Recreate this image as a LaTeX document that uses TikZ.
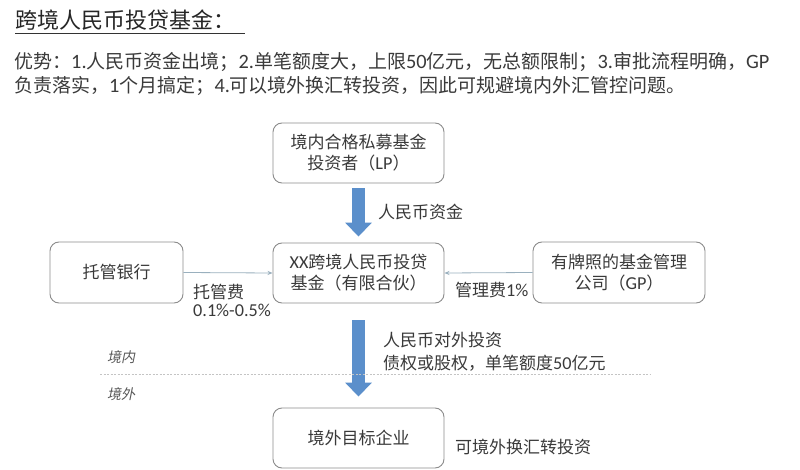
\documentclass[tikz,border=0pt]{standalone}
\usepackage{fontspec}
\setmainfont{Noto Sans CJK SC}
\newfontfamily\lat[Scale=1.07]{Carlito}
\newfontfamily\cjkit[FakeSlant=0.2]{Noto Sans CJK SC}
\usetikzlibrary{arrows.meta}
\definecolor{txt}{HTML}{3A3A3A}
\definecolor{boxline}{HTML}{8C8C8C}
\definecolor{bigblue}{HTML}{5B8FCB}
\definecolor{thinline}{HTML}{9AB0BE}
\definecolor{dashc}{HTML}{C4C4C4}
\tikzset{
  fbox/.style={draw=boxline, line width=0.9pt, rounded corners=9pt, fill=white,
    minimum height=60pt, inner sep=0pt, align=center, text=txt,
    font=\fontsize{17}{21}\selectfont},
  lbl/.style={anchor=west, inner sep=0pt, text=txt, font=\fontsize{17}{21}\selectfont},
  zone/.style={anchor=west, inner sep=0pt, text=txt!85, font=\fontsize{14}{16}\cjkit},
  bigarrow/.style={draw=bigblue, line width=13pt,
    -{Triangle[width=26pt,length=14pt]}},
  thinarrow/.style={draw=thinline, line width=0.8pt, -{Stealth[length=5pt,width=4pt]}},
  sepline/.style={draw=dashc, line width=1pt, dash pattern=on 2pt off 1.5pt}
}
\begin{document}
\begin{tikzpicture}[x=1pt,y=-1pt]
\useasboundingbox[fill=white] (0,0) rectangle (800,470);

% title
\node[anchor=base west, inner sep=0pt, text=black!85, font=\fontsize{22}{26}\selectfont] (title) at (15,29) {跨境人民币投贷基金：};
\coordinate (ulA) at (15,33);
\coordinate (ulB) at (245,33);
\draw[black!80, line width=0.9pt] (ulA) -- (ulB);

% advantages
\node[anchor=west, inner sep=0pt, text=txt, font=\fontsize{19}{24}\selectfont] (adv1) at (14,62)
  {优势：{\lat 1.}人民币资金出境；{\lat 2.}单笔额度大，上限{\lat 50}亿元，无总额限制；{\lat 3.}审批流程明确，{\lat GP}};
\node[anchor=west, inner sep=0pt, text=txt, font=\fontsize{19}{24}\selectfont] (adv2) at (14,86)
  {负责落实，{\lat 1}个月搞定；{\lat 4.}可以境外换汇转投资，因此可规避境内外汇管控问题。};

% boxes
\node[fbox, minimum width=171pt] (lp) at (358.5,153) {境内合格私募基金\\投资者（{\lat LP}）};
\node[fbox, minimum width=171pt] (fund) at (358.5,273) {{\lat XX}跨境人民币投贷\\基金（有限合伙）};
\node[fbox, minimum width=133pt, minimum height=61pt] (bank) at (116.5,272.5) {托管银行};
\node[fbox, minimum width=172pt, minimum height=61pt] (gp) at (619,272.5) {有牌照的基金管理\\公司（{\lat GP}）};
\node[fbox, minimum width=171pt] (target) at (358.5,438) {境外目标企业};

% big arrows
\draw[bigarrow] ([yshift=-5pt]lp.south) -- ([yshift=6pt]fund.north);
\draw[bigarrow] ([yshift=-17pt]fund.south) -- ([yshift=11pt]target.north);

% thin arrows
\draw[thinarrow] (bank.east) -- (fund.west);
\draw[thinarrow] (gp.west) -- (fund.east);

% labels
\node[lbl] (l1) at (378,212) {人民币资金};
\node[lbl] (l2) at (193,292) {托管费};
\node[lbl, font=\fontsize{17}{21}\lat] (l3) at (193,310) {0.1\%-0.5\%};
\node[lbl] (l4) at (455,290) {管理费{\lat 1\%}};
\node[lbl] (l5) at (383,340) {人民币对外投资};
\node[lbl] (l6) at (383,363) {债权或股权，单笔额度{\lat 50}亿元};
\node[lbl] (l7) at (455,447) {可境外换汇转投资};

% border line
\coordinate (dA) at (100,374);
\coordinate (dB) at (650,374);
\draw[sepline] (dA) -- (dB);
\node[zone] (in) at (107,357) {境内};
\node[zone] (out) at (107,394) {境外};
\end{tikzpicture}
\end{document}
